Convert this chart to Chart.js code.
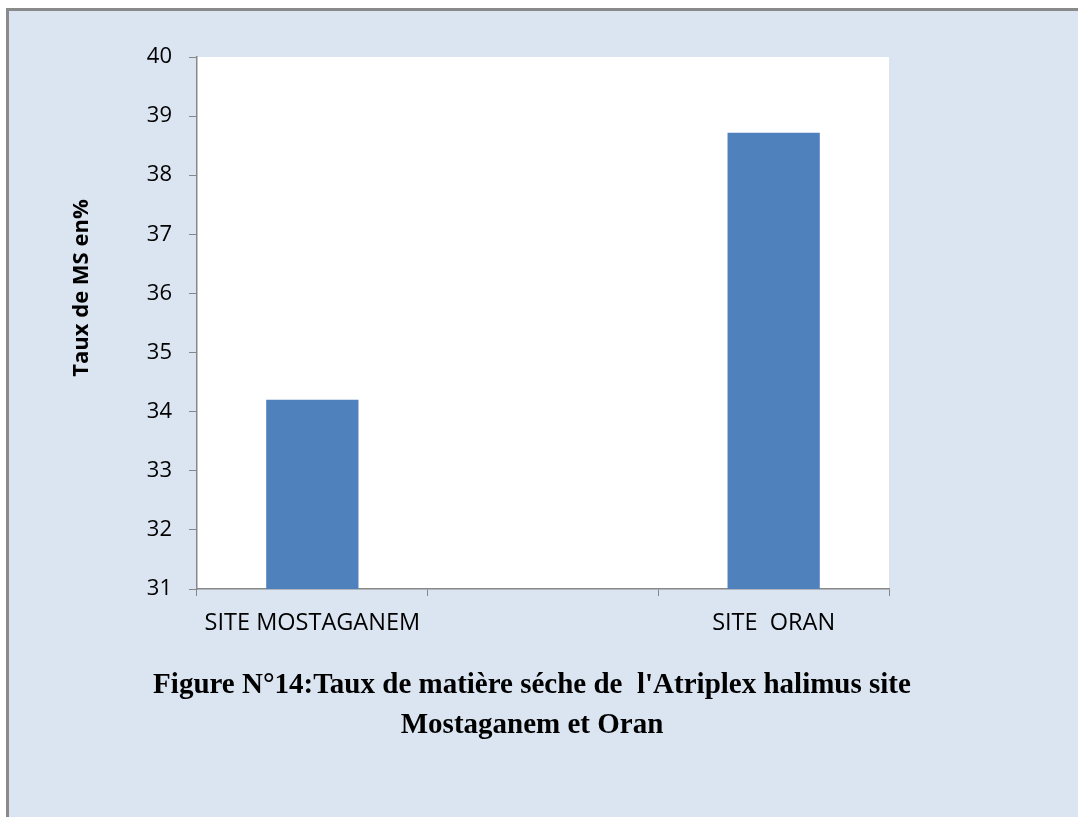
<!DOCTYPE html>
<html>
<head>
<meta charset="utf-8">
<script src="https://cdn.jsdelivr.net/npm/chart.js@4.4.1/dist/chart.umd.min.js"></script>
<style>
  html, body { margin: 0; padding: 0; background: #ffffff; }
  #cadre {
    position: absolute; left: 6px; top: 8px; width: 1080px; height: 820px;
    background: #dbe5f1; border-left: 3px solid #8a8a8a; border-top: 3px solid #8a8a8a;
  }
  #zone { position: absolute; left: 0; top: 0; width: 1078px; height: 817px; }
</style>
</head>
<body>
<div id="cadre"></div>
<div id="zone"><canvas id="tauxMS"></canvas></div>
<script>
// sites (la catégorie du milieu reste vide)
const sites = ['SITE MOSTAGANEM', '', 'SITE  ORAN'];
const tauxMS = [34.2, null, 38.72];
const axeMin = 31;
const axeMax = 40;
const titreAxeY = 'Taux de MS en%';
const legende = ["Figure N°14:Taux de matière séche de  l'Atriplex halimus site", 'Mostaganem et Oran'];

// fond blanc de la zone de tracé, titre vertical de l'axe Y et légende de la figure
const habillage = {
    id: 'habillage',
    beforeDraw(chart) {
        const { ctx, chartArea } = chart;
        ctx.save();
        ctx.fillStyle = '#ffffff';
        ctx.fillRect(chartArea.left, chartArea.top, chartArea.right - chartArea.left, chartArea.bottom - chartArea.top);
        ctx.restore();
    },
    afterDraw(chart) {
        const ctx = chart.ctx;
        ctx.save();
        ctx.fillStyle = '#000000';
        ctx.textAlign = 'center';
        ctx.textBaseline = 'middle';

        ctx.save();
        ctx.translate(82, 288);
        ctx.rotate(-Math.PI / 2);
        ctx.font = 'bold 22px "Open Sans"';
        ctx.fillText(titreAxeY, 0, 0);
        ctx.restore();

        ctx.font = 'bold 29px "Liberation Serif", "Times New Roman", serif';
        legende.forEach((ligne, i) => ctx.fillText(ligne, 532, 686 + i * 40));
        ctx.restore();
    }
};

function creerGraphique(idCanvas) {
    const graphique = document.getElementById(idCanvas).getContext('2d');

    return new Chart(graphique, {
        type: 'bar',
        data: {
            labels: sites,
            datasets: [{
                data: tauxMS,
                backgroundColor: '#4f81bd',
                borderWidth: 0,
                categoryPercentage: 1,
                barPercentage: 0.4
            }]
        },
        options: {
            responsive: true,
            maintainAspectRatio: false,
            animation: false,
            layout: { padding: { left: 0, right: 189, top: 57, bottom: 178 } },
            plugins: {
                legend: { display: false },
                tooltip: { enabled: false }
            },
            scales: {
                x: {
                    grid: { offset: true, drawOnChartArea: false, tickLength: 7, color: '#878787' },
                    border: { color: '#878787', width: 1.5 },
                    ticks: { color: '#000000', padding: 13, font: { family: '"Open Sans"', size: 23.5 } },
                    afterFit(scale) { scale.height = 50; }
                },
                y: {
                    min: axeMin,
                    max: axeMax,
                    grid: { drawOnChartArea: false, tickLength: 8, color: '#878787' },
                    border: { color: '#878787', width: 1.5 },
                    ticks: { stepSize: 1, color: '#000000', padding: 17, font: { family: '"Open Sans"', size: 22 } },
                    afterFit(scale) { scale.width = 197; }
                }
            }
        },
        plugins: [habillage]
    });
}

creerGraphique('tauxMS');
</script>
</body>
</html>
